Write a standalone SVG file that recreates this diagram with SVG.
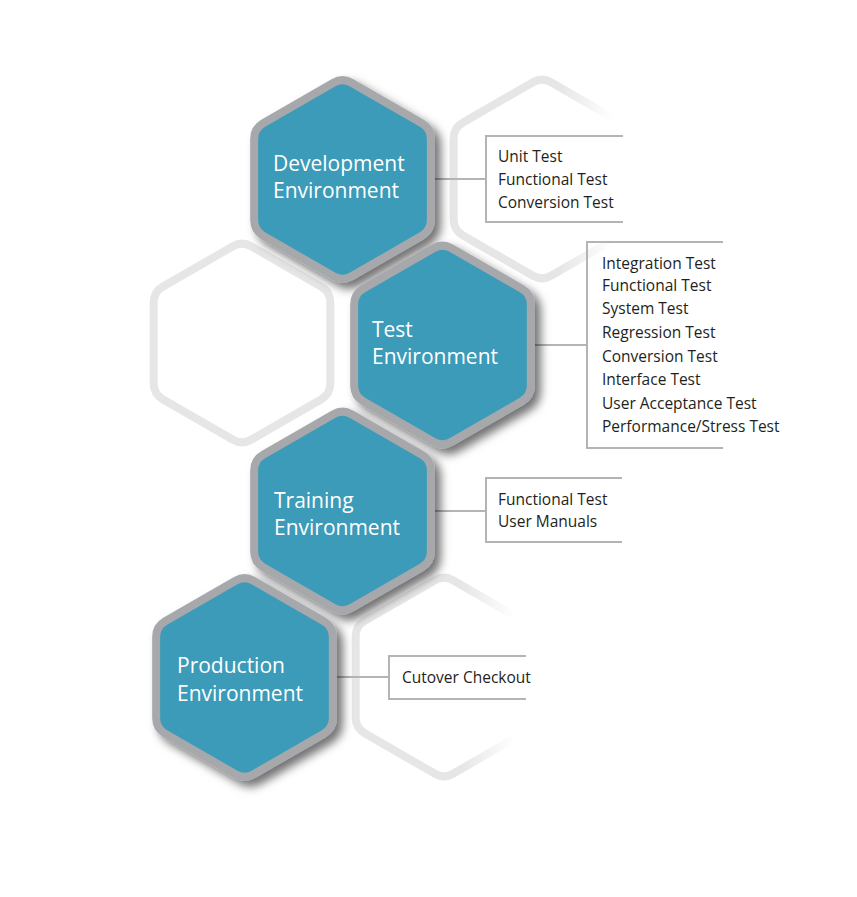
<svg xmlns="http://www.w3.org/2000/svg" xmlns:xlink="http://www.w3.org/1999/xlink" width="857" height="897" viewBox="0 0 857 897">
<defs>
<path id="hex" d="M9,-96.8 L79.33,-56.2 A18,18 0 0 1 88.33,-40.6 L88.33,40.6 A18,18 0 0 1 79.33,56.2 L9,96.8 A18,18 0 0 1 -9,96.8 L-79.33,56.2 A18,18 0 0 1 -88.33,40.6 L-88.33,-40.6 A18,18 0 0 1 -79.33,-56.2 L-9,-96.8 A18,18 0 0 1 9,-96.8 Z"/>
<linearGradient id="fade" x1="0" y1="0" x2="1" y2="0">
<stop offset="0" stop-color="#e6e6e7" stop-opacity="1"/>
<stop offset="0.6" stop-color="#e6e6e7" stop-opacity="1"/>
<stop offset="0.9" stop-color="#e6e6e7" stop-opacity="0"/>
</linearGradient>
<filter id="shadow" x="-20%" y="-20%" width="150%" height="150%">
<feDropShadow dx="6" dy="6" stdDeviation="5" flood-color="#000" flood-opacity="0.55"/>
</filter>
</defs>
<style>
.ghost{fill:#fff;stroke:#e6e6e7;stroke-width:8}
.ghostfade{fill:none;stroke:url(#fade);stroke-width:8}
.hexn{fill:#3b9bb9;stroke:#a7a8ab;stroke-width:8;filter:url(#shadow)}
.title{font-family:"Open Sans","Liberation Sans",sans-serif;font-size:21px;fill:#ffffff}
.item{font-family:"Open Sans","Liberation Sans",sans-serif;font-size:15.5px;fill:#231f20}
.conn{fill:none;stroke:#b3b4b6;stroke-width:2}
</style>
<rect width="857" height="897" fill="#ffffff"/>
<g id="background-hexes">
<use href="#hex" class="ghost" transform="translate(242,343)"/>
<use href="#hex" class="ghostfade" transform="translate(542,179)"/>
<use href="#hex" class="ghostfade" transform="translate(444,677)"/>
</g>
<g id="connectors">
<path class="conn" d="M435,179 H486 M623,136 H486 V222 H623"/>
<path class="conn" d="M535,345 H587 M723,242 H587 V448 H723"/>
<path class="conn" d="M435,511 H486 M622,478 H486 V542 H622"/>
<path class="conn" d="M337,677 H389 M526,656 H389 V699 H526"/>
</g>
<g id="node-development">
<use href="#hex" class="hexn" transform="translate(342.5,179.5)"/>
<text class="title" x="273" y="171">Development</text>
<text class="title" x="273" y="198">Environment</text>
</g>
<g id="node-test">
<use href="#hex" class="hexn" transform="translate(442.5,345)"/>
<text class="title" x="372" y="337">Test</text>
<text class="title" x="372" y="364">Environment</text>
</g>
<g id="node-training">
<use href="#hex" class="hexn" transform="translate(342.5,511)"/>
<text class="title" x="274" y="508">Training</text>
<text class="title" x="274" y="535">Environment</text>
</g>
<g id="node-production">
<use href="#hex" class="hexn" transform="translate(244.5,677.5)"/>
<text class="title" x="177" y="673">Production</text>
<text class="title" x="177" y="701">Environment</text>
</g>
<g id="list-development">
<text class="item" x="498" y="162">Unit Test</text>
<text class="item" x="498" y="185">Functional Test</text>
<text class="item" x="498" y="208">Conversion Test</text>
</g>
<g id="list-test">
<text class="item" x="602" y="269">Integration Test</text>
<text class="item" x="602" y="291">Functional Test</text>
<text class="item" x="602" y="314">System Test</text>
<text class="item" x="602" y="338">Regression Test</text>
<text class="item" x="602" y="362">Conversion Test</text>
<text class="item" x="602" y="385">Interface Test</text>
<text class="item" x="602" y="409">User Acceptance Test</text>
<text class="item" x="602" y="432">Performance/Stress Test</text>
</g>
<g id="list-training">
<text class="item" x="498" y="505">Functional Test</text>
<text class="item" x="498" y="527">User Manuals</text>
</g>
<g id="list-production">
<text class="item" x="402" y="683">Cutover Checkout</text>
</g>
</svg>
